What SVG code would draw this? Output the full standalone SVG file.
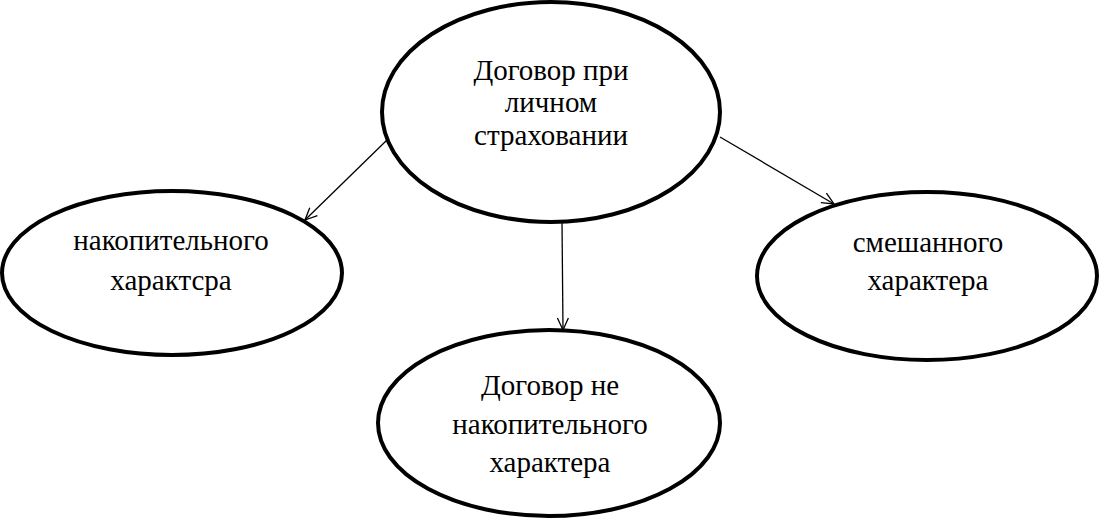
<svg xmlns="http://www.w3.org/2000/svg" width="1100" height="520" viewBox="0 0 1100 520">
<style>
.node ellipse{fill:#fff;stroke:#000;stroke-width:4}
.node text{font-family:"Liberation Serif","Times New Roman",serif;font-size:29px;fill:#000;text-anchor:middle}
.conn line{stroke:#000;stroke-width:1.3;fill:none}
</style>
<defs>
<marker id="arr" markerUnits="userSpaceOnUse" markerWidth="16" markerHeight="14" refX="13" refY="7" orient="auto">
<path d="M1,1.5 L13,7 L1,12.5" fill="none" stroke="#000" stroke-width="1.3"/>
</marker>
</defs>
<rect width="1100" height="520" fill="#fff"/>
<g class="conn">
<line x1="387" y1="140" x2="305" y2="220" marker-end="url(#arr)"/>
<line x1="562" y1="222" x2="563" y2="330" marker-end="url(#arr)"/>
<line x1="720" y1="137" x2="834" y2="204" marker-end="url(#arr)"/>
</g>
<g id="top" class="node">
<ellipse cx="551" cy="112" rx="169" ry="110"/>
<text x="551" y="80">Договор при</text>
<text x="551" y="112">личном</text>
<text x="551" y="145">страховании</text>
</g>
<g id="left" class="node">
<ellipse cx="172" cy="273" rx="170" ry="82"/>
<text x="171" y="250">накопительного</text>
<text x="171" y="290">характсра</text>
</g>
<g id="right" class="node">
<ellipse cx="927" cy="276" rx="170" ry="84"/>
<text x="928" y="252">смешанного</text>
<text x="928" y="290">характера</text>
</g>
<g id="bottom" class="node">
<ellipse cx="549" cy="423" rx="171" ry="93"/>
<text x="550" y="395">Договор не</text>
<text x="550" y="434">накопительного</text>
<text x="550" y="472">характера</text>
</g>
</svg>
